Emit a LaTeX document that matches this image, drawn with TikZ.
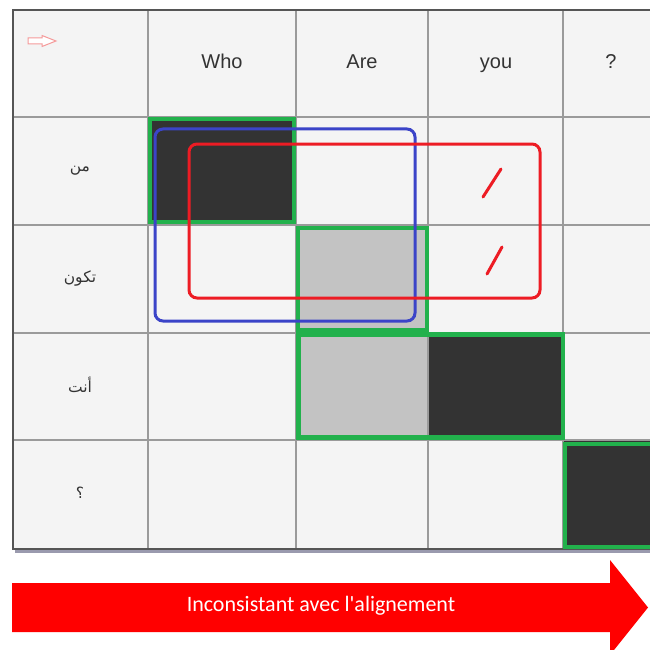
\documentclass[tikz,border=0pt]{standalone}
\usepackage{fontspec}
\setmainfont{Liberation Sans}
\newfontfamily\arabicfont[Script=Arabic]{DejaVu Sans}
\newfontfamily\bannerfont{Carlito}
\TeXXeTstate=1
\usetikzlibrary{positioning}
\definecolor{cellbg}{HTML}{F4F4F4}
\definecolor{gridgray}{HTML}{9A9A9A}
\definecolor{framegray}{HTML}{555555}
\definecolor{shadowgray}{HTML}{9A9AAE}
\definecolor{darkcell}{HTML}{333333}
\definecolor{lightcell}{HTML}{C3C3C3}
\definecolor{alignGreen}{HTML}{22B14C}
\definecolor{boxBlue}{HTML}{3B44C8}
\definecolor{boxRed}{HTML}{ED1C24}
\definecolor{pinkish}{HTML}{F59A9A}
\definecolor{txtgray}{HTML}{333333}

\begin{document}
\begin{tikzpicture}[x=1pt,y=-1pt,line join=miter]
\tikzset{
  gridline/.style={draw=gridgray,line width=1.4pt},
  greenbox/.style={draw=alignGreen,line width=4.5pt},
  spanbox/.style={line width=3pt,rounded corners=8pt},
  slash/.style={boxRed,line width=3pt,line cap=round},
  srcword/.style={font=\fontsize{20}{22}\selectfont,text=txtgray,anchor=base},
  tgtword/.style={font=\arabicfont\fontsize{15.5}{17}\selectfont,text=txtgray},
  banner/.style={font=\bannerfont\fontsize{22}{24}\selectfont,text=white,anchor=base}
}
% helper for an aligned cell: x0, y0, x1, y1, fill colour
\newcommand{\alignedcell}[5]{%
  \fill[#5] (#1,#2) rectangle (#3,#4);
}
\useasboundingbox (0,0) rectangle (649,650);

% ------ table ------
\fill[cellbg] (13,10) rectangle (660,549);
\alignedcell{148}{117}{296}{225}{darkcell}
\alignedcell{296}{225}{428}{333}{lightcell}
\alignedcell{296}{333}{428}{440}{lightcell}
\alignedcell{428}{333}{563}{440}{darkcell}
\alignedcell{563}{440}{660}{549}{darkcell}
% grid
\foreach \x in {148,296,428,563}{
  \draw[gridline] (\x,10) -- (\x,549);
}
\foreach \y in {117,225,333,440}{
  \draw[gridline] (13,\y) -- (660,\y);
}
% frame + shadow
\draw[shadowgray,line width=2.5pt] (15,551.5) -- (660,551.5);
\draw[framegray,line width=2pt] (660,10) -- (13,10) -- (13,549) -- (660,549);

% green alignment boxes
\draw[greenbox] (150,119) rectangle (294,222);
\draw[greenbox] (298,228) rectangle (427,330);
\draw[greenbox] (298.5,334.5) rectangle (563,437.5);
\draw[greenbox] (565,444) rectangle (670,547);

% blue and red spans
\draw[spanbox,boxBlue] (155,129) rectangle (415,321);
\draw[spanbox,boxRed] (189,144) rectangle (540,298);
\draw[slash] (483,197) -- (501,169);
\draw[slash] (487,274) -- (502,247);

% small arrow in the corner
\filldraw[fill=white,draw=pinkish,line width=1pt]
  (28,38) -- (42,38) -- (42,35.5) -- (56,41) -- (42,46.5) -- (42,44) -- (28,44) -- cycle;

% source words
\foreach \x/\w/\nm in {222/Who/who,362/Are/are,496/you/you,611/?/qm}{
  \node[srcword] (src-\nm) at (\x,69) {\w};
}
% target words
\node[tgtword] (tgt-1) at (80,171) {\beginR من\endR};
\node[tgtword] (tgt-2) at (80,279) {\beginR تكون\endR};
\node[tgtword] (tgt-3) at (80,385) {\beginR أنت\endR};
\node[tgtword] (tgt-4) at (80,493) {\beginR ؟\endR};

% ------ bottom arrow ------
\fill[red] (12,583) -- (610,583) -- (610,560) -- (648,607.5) -- (610,655)
  -- (610,632) -- (12,632) -- cycle;
\node[banner] (note) at (321,611) {Inconsistant avec l'alignement};
\end{tikzpicture}
\end{document}
